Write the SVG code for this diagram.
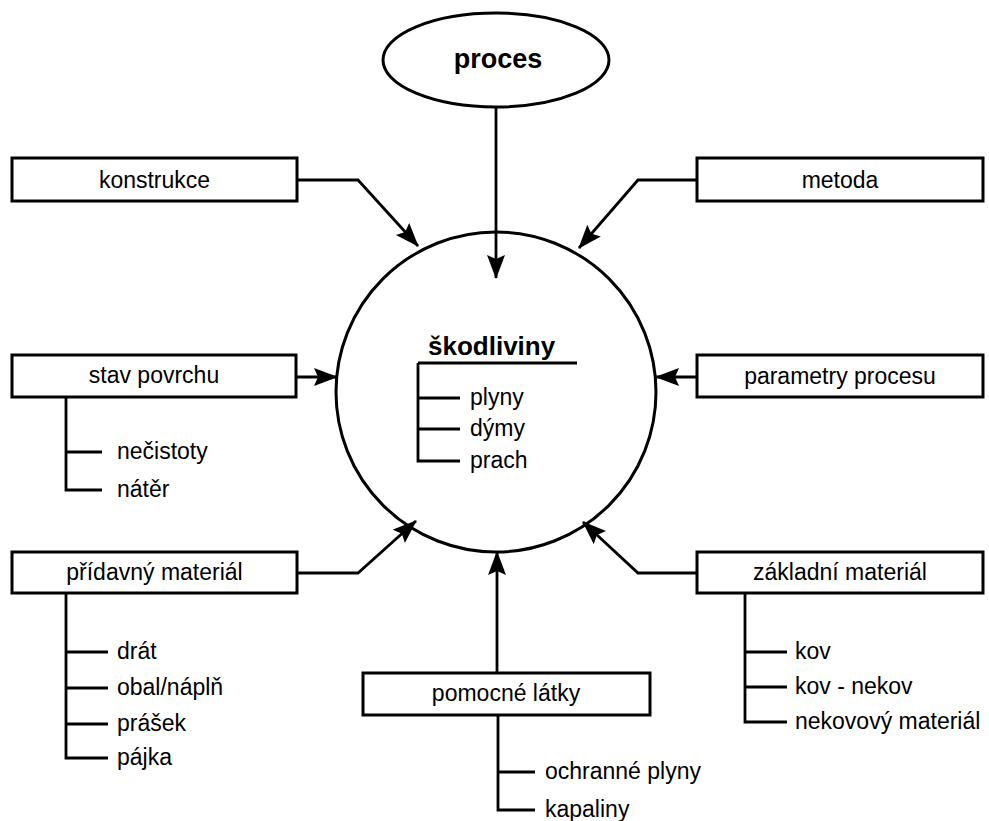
<svg xmlns="http://www.w3.org/2000/svg" width="989" height="821" viewBox="0 0 989 821">
<defs>
<style>
.box{fill:#fff;stroke:#000;stroke-width:3}
.ln{fill:none;stroke:#000;stroke-width:2.8}
.t{font-family:"Liberation Sans",Arial,sans-serif;font-size:23px;fill:#000}
.c{text-anchor:middle}
.b{font-weight:bold}
</style>
<marker id="ah" markerUnits="userSpaceOnUse" markerWidth="26" markerHeight="20" refX="23" refY="9" orient="auto">
<path d="M0,0 L24,9 L0,18 L4,9 z" fill="#000"/>
</marker>
</defs>
<rect width="989" height="821" fill="#fff"/>
<g id="proces">
<ellipse class="box" cx="496" cy="60" rx="113" ry="47"/>
<text class="t c b" x="498" y="68" style="font-size:27px">proces</text>
</g>
<g id="skodliviny">
<circle class="box" cx="496" cy="392" r="160"/>
<text class="t b" x="428" y="355" style="font-size:26px">škodliviny</text>
<path class="ln" d="M418,363 L577,363 M418,363 L418,461 L460,461 M418,398 L460,398 M418,429 L460,429"/>
<text class="t" x="470" y="405">plyny</text>
<text class="t" x="470" y="436">dýmy</text>
<text class="t" x="470" y="468">prach</text>
</g>
<g id="konstrukce">
<rect class="box" x="12" y="158" width="285" height="43"/>
<text class="t c" x="154.5" y="188">konstrukce</text>
</g>
<g id="metoda">
<rect class="box" x="697" y="158" width="286" height="43"/>
<text class="t c" x="840" y="188">metoda</text>
</g>
<g id="stav-povrchu">
<rect class="box" x="12" y="355" width="284" height="42"/>
<text class="t c" x="154" y="383">stav povrchu</text>
<path class="ln" d="M66,397 L66,490 L102,490 M66,452 L102,452"/>
<text class="t" x="117" y="459">nečistoty</text>
<text class="t" x="117" y="497">nátěr</text>
</g>
<g id="parametry-procesu">
<rect class="box" x="697" y="355" width="286" height="42"/>
<text class="t c" x="840" y="384">parametry procesu</text>
</g>
<g id="pridavny-material">
<rect class="box" x="12" y="552" width="285" height="41"/>
<text class="t c" x="154.5" y="580">přídavný materiál</text>
<path class="ln" d="M66,593 L66,758 L108,758 M66,652 L108,652 M66,688 L108,688 M66,724 L108,724"/>
<text class="t" x="117" y="659">drát</text>
<text class="t" x="117" y="695">obal/náplň</text>
<text class="t" x="117" y="731">prášek</text>
<text class="t" x="117" y="765">pájka</text>
</g>
<g id="zakladni-material">
<rect class="box" x="697" y="552" width="286" height="41"/>
<text class="t c" x="840" y="580">základní materiál</text>
<path class="ln" d="M745,593 L745,722 L787,722 M745,652 L787,652 M745,687 L787,687"/>
<text class="t" x="795" y="659">kov</text>
<text class="t" x="795" y="694">kov - nekov</text>
<text class="t" x="795" y="729">nekovový materiál</text>
</g>
<g id="pomocne-latky">
<rect class="box" x="363" y="673" width="287" height="42"/>
<text class="t c" x="506" y="701">pomocné látky</text>
<path class="ln" d="M498,715 L498,810 L535,810 M498,772 L535,772"/>
<text class="t" x="545" y="779">ochranné plyny</text>
<text class="t" x="545" y="817">kapaliny</text>
</g>
<g id="connectors">
<path class="ln" d="M496,107 L496,278" marker-end="url(#ah)"/>
<path class="ln" d="M297,180 L358,180 L418,246" marker-end="url(#ah)"/>
<path class="ln" d="M697,180 L638,180 L579,248" marker-end="url(#ah)"/>
<path class="ln" d="M296,377 L337,377" marker-end="url(#ah)"/>
<path class="ln" d="M697,377 L656,377" marker-end="url(#ah)"/>
<path class="ln" d="M297,573 L358,573 L416,521" marker-end="url(#ah)"/>
<path class="ln" d="M697,573 L638,573 L583,522" marker-end="url(#ah)"/>
<path class="ln" d="M497,673 L497,552" marker-end="url(#ah)"/>
</g>
</svg>
